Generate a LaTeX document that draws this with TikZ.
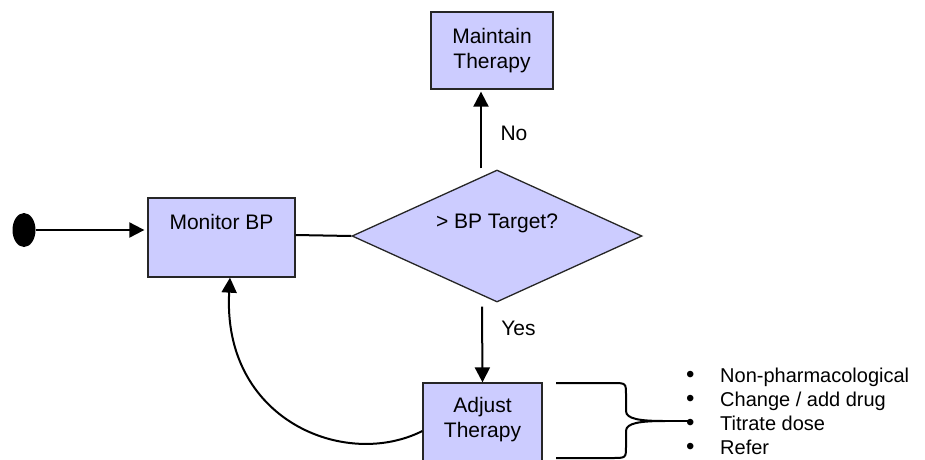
\documentclass[tikz,border=0pt]{standalone}
\usepackage{fontspec}
\setmainfont{Liberation Sans}
\usetikzlibrary{arrows.meta,shapes.geometric}
\definecolor{boxfill}{HTML}{CCCCFF}
\begin{document}
\begin{tikzpicture}[x=1pt,y=-1pt,
  box/.style={draw=black!85,line width=1.3pt,fill=boxfill,inner sep=0pt},
  txt/.style={font=\fontsize{21}{25}\selectfont,align=center,inner sep=0pt},
  itemtxt/.style={font=\fontsize{20}{24}\selectfont,anchor=base west,inner sep=0pt},
  conn/.style={line width=2pt},
  arr/.style={conn,-{Triangle[length=15pt,width=15pt]}}]
\clip (0,0) rectangle (925,459);
\fill[white] (0,0) rectangle (925,459);

% start marker
\node[ellipse,fill=black,minimum width=23pt,minimum height=34pt,inner sep=0pt] (start) at (24,230) {};

% process boxes
\node[box,minimum width=147pt,minimum height=79pt] (mon) at (221.5,237.5) {};
\node[txt] (montxt) at (221.5,222) {Monitor BP};

\node[box,minimum width=122pt,minimum height=77pt,txt] (maint) at (492,50.5) {Maintain\\Therapy};

\node[box,minimum width=119pt,minimum height=80pt] (adj) at (482.5,423) {};
\node[txt] (adjtxt) at (482.5,419.5) {Adjust\\Therapy};

% decision
\node[diamond,draw=black!85,line width=1.3pt,fill=boxfill,inner sep=0pt,
      minimum width=290pt,minimum height=132pt] (dec) at (497,236) {};
\node[txt] (dectxt) at (497,223) {> BP Target?};

% connectors
\draw[arr] (start.east) -- ([xshift=-3pt]mon.west |- start.east);
\draw[conn] (mon.east |- 0,235) -- (dec.west);
\draw[arr] ([xshift=-16pt,yshift=1pt]dec.north) -- ([xshift=-11pt,yshift=-2pt]maint.south);
\node[txt] (nolbl) at (514,133) {No};
\draw[arr] ([xshift=-15pt,yshift=-4pt]dec.south) -- (adj.north);
\node[txt] (yeslbl) at (518.5,328) {Yes};
\draw[arr] (adj.west |- 0,431) .. controls (345,470) and (222,420) .. (mon.south -| 230,0);

% brace towards the list of options
\draw[conn,line join=round]
  (556,383) -- (612,383) .. controls (626,383) .. (626,395) -- (626,411)
  .. controls (626,419) and (640,421) .. (665,421)
  .. controls (640,421) and (626,423) .. (626,431) -- (626,446)
  .. controls (626,458) .. (612,458) -- (556,458);
\draw[conn] (665,421) -- (692,421);

% options
\foreach \i/\t/\y in {1/{Non-pharmacological}/382,2/{Change / add drug}/406,3/{Titrate dose}/430,4/{Refer}/454}{
  \node[itemtxt,font=\fontsize{24}{24}\selectfont] (b\i) at (686,\y) {•};
  \node[itemtxt] (opt\i) at (720,\y) {\t};
}
\end{tikzpicture}
\end{document}
